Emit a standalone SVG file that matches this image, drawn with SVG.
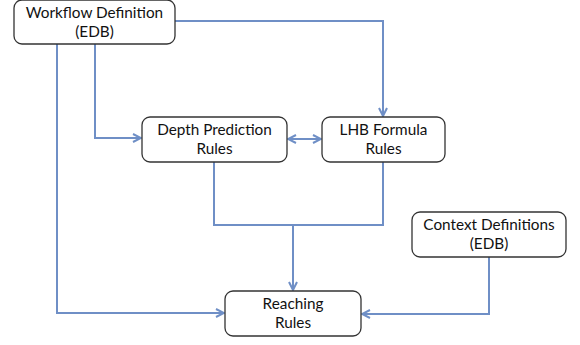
<svg xmlns="http://www.w3.org/2000/svg" width="580" height="345" viewBox="0 0 580 345">
  <style>
    .box { fill: #ffffff; stroke: #333333; stroke-width: 1.3; }
    .lbl { font-family: Lato, "Open Sans", "Liberation Sans", sans-serif; font-size: 15.3px; fill: #111111; text-anchor: middle; }
    .wire { fill: none; stroke: #6F8FC6; stroke-width: 2; }
  </style>
  <defs>
    <marker id="arr" viewBox="0 0 10 10" refX="9" refY="5" markerWidth="10" markerHeight="10" markerUnits="userSpaceOnUse" orient="auto-start-reverse">
      <path d="M1,1 L9,5 L1,9" fill="none" stroke="#6F8FC6" stroke-width="2"/>
    </marker>
  </defs>
  <rect width="580" height="345" fill="#ffffff"/>

  <g id="connectors">
    <!-- workflow to LHB -->
    <path class="wire" d="M175,21 H383 V116" marker-end="url(#arr)"/>
    <!-- workflow to depth prediction -->
    <path class="wire" d="M95,44 V138 H141" marker-end="url(#arr)"/>
    <!-- workflow to reaching -->
    <path class="wire" d="M57,44 V313 H224" marker-end="url(#arr)"/>
    <!-- depth <-> LHB -->
    <path class="wire" d="M288,139 H321" marker-start="url(#arr)" marker-end="url(#arr)"/>
    <!-- depth and LHB merge into reaching -->
    <path class="wire" d="M214,162 V225 H383 V162"/>
    <path class="wire" d="M293,225 V290" marker-end="url(#arr)"/>
    <!-- context to reaching -->
    <path class="wire" d="M489,257 V314 H362" marker-end="url(#arr)"/>
  </g>

  <g id="workflow">
    <rect class="box" x="14" y="0" width="161" height="44" rx="8"/>
    <text class="lbl" x="94.5" y="18">Workflow  Definition</text>
    <text class="lbl" x="94.5" y="37">(EDB)</text>
  </g>

  <g id="depth">
    <rect class="box" x="142" y="117" width="145" height="45" rx="8"/>
    <text class="lbl" x="214.5" y="135">Depth Prediction</text>
    <text class="lbl" x="214.5" y="154">Rules</text>
  </g>

  <g id="lhb">
    <rect class="box" x="322" y="117" width="123" height="45" rx="8"/>
    <text class="lbl" x="383.5" y="135">LHB Formula</text>
    <text class="lbl" x="383.5" y="154">Rules</text>
  </g>

  <g id="context">
    <rect class="box" x="412" y="212" width="154" height="45" rx="8"/>
    <text class="lbl" x="489" y="230">Context Definitions</text>
    <text class="lbl" x="489" y="249">(EDB)</text>
  </g>

  <g id="reaching">
    <rect class="box" x="225" y="291" width="136" height="45" rx="8"/>
    <text class="lbl" x="293" y="309">Reaching</text>
    <text class="lbl" x="293" y="328">Rules</text>
  </g>
</svg>
